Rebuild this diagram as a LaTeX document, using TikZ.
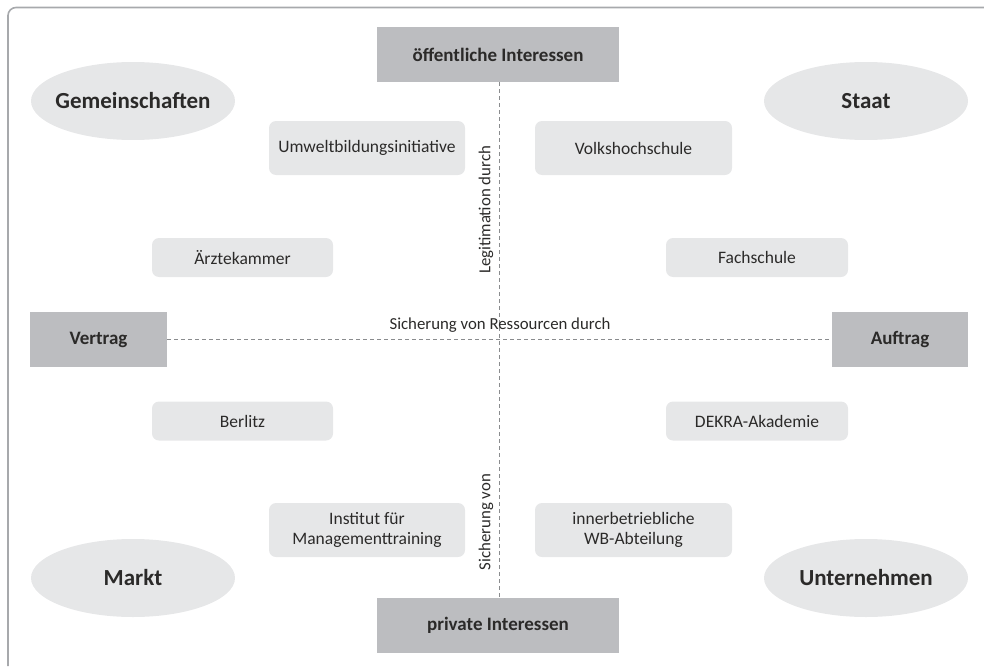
\documentclass[tikz,border=0pt]{standalone}
\usepackage{fontspec}
\setmainfont{Carlito}
\usetikzlibrary{shapes.geometric}
\definecolor{darkbox}{HTML}{BCBDC0}
\definecolor{lightbox}{HTML}{E6E7E8}
\definecolor{txt}{HTML}{2B2A29}
\definecolor{dashcol}{HTML}{8A8C8E}
\definecolor{framecol}{HTML}{A7A9AC}
\tikzset{
  pole/.style={fill=darkbox, draw=none, inner sep=0pt, text=txt, font=\fontsize{19}{21}\selectfont\bfseries},
  sector/.style={ellipse, fill=lightbox, draw=none, inner xsep=-14pt, inner ysep=0pt, minimum width=204pt, minimum height=78pt, text=txt, font=\fontsize{23}{26}\selectfont\bfseries},
  inst/.style={rounded corners=7pt, fill=lightbox, draw=none, inner sep=0pt, text=txt, align=center, font=\fontsize{17.5}{20}\selectfont},
  axis/.style={dashcol, dashed, dash pattern=on 4pt off 3pt, line width=0.8pt},
  axlabel/.style={text=txt, inner sep=0pt, font=\fontsize{16.8}{19}\selectfont}
}
\begin{document}
\begin{tikzpicture}[x=1pt,y=-1pt]
\useasboundingbox (0,0) rectangle (984,666);
% frame
\draw[framecol, line width=1.6pt, rounded corners=8pt] (8,666) -- (8,7.5) -- (984,7.5);
% poles
\node[pole, minimum width=242pt, minimum height=55pt] (top) at (498,54.5) {öffentliche Interessen};
\node[pole, minimum width=242pt, minimum height=55pt] (bottom) at (498,625.5) {private Interessen};
\node[pole, minimum width=137pt, minimum height=55pt] (left) at (98.5,339.5) {Vertrag};
\node[pole, minimum width=136pt, minimum height=55pt] (right) at (900,339.5) {Auftrag};
% axes
\draw[axis] (top.south) ++(1.5,0) coordinate (vt) -- (bottom.north -| vt);
\draw[axis] (left.east) -- (right.west);
\node[axlabel, anchor=south] (lres) at (500,333) {Sicherung von Ressourcen durch};
\node[axlabel, rotate=90] (lleg) at (486,210) {Legitimation durch};
\node[axlabel, rotate=90] (lsich) at (486,522) {Sicherung von};
% sectors
\node[sector] (gem) at (133,101) {Gemeinschaften};
\node[sector] (staat) at (866,101) {Staat};
\node[sector] (markt) at (133,578) {Markt};
\node[sector] (unt) at (866,578) {Unternehmen};
% institutions
\node[inst, minimum width=196pt, minimum height=54pt] (umw) at (367,148) {Umweltbildungsinitiative};
\node[inst, minimum width=197pt, minimum height=54pt] (vhs) at (633.5,148) {Volkshochschule};
\node[inst, minimum width=181pt, minimum height=39pt] (aerzte) at (242.5,257.5) {Ärztekammer};
\node[inst, minimum width=182pt, minimum height=39pt] (fach) at (757,257.5) {Fachschule};
\node[inst, minimum width=181pt, minimum height=39pt] (berl) at (242.5,421) {Berlitz};
\node[inst, minimum width=182pt, minimum height=39pt] (dekra) at (757,421) {DEKRA-Akademie};
\node[inst, minimum width=196pt, minimum height=54pt] (inst) at (367,530) {Institut für\\Managementtraining};
\node[inst, minimum width=197pt, minimum height=54pt] (wb) at (633.5,530) {innerbetriebliche\\WB-Abteilung};
\end{tikzpicture}
\end{document}
